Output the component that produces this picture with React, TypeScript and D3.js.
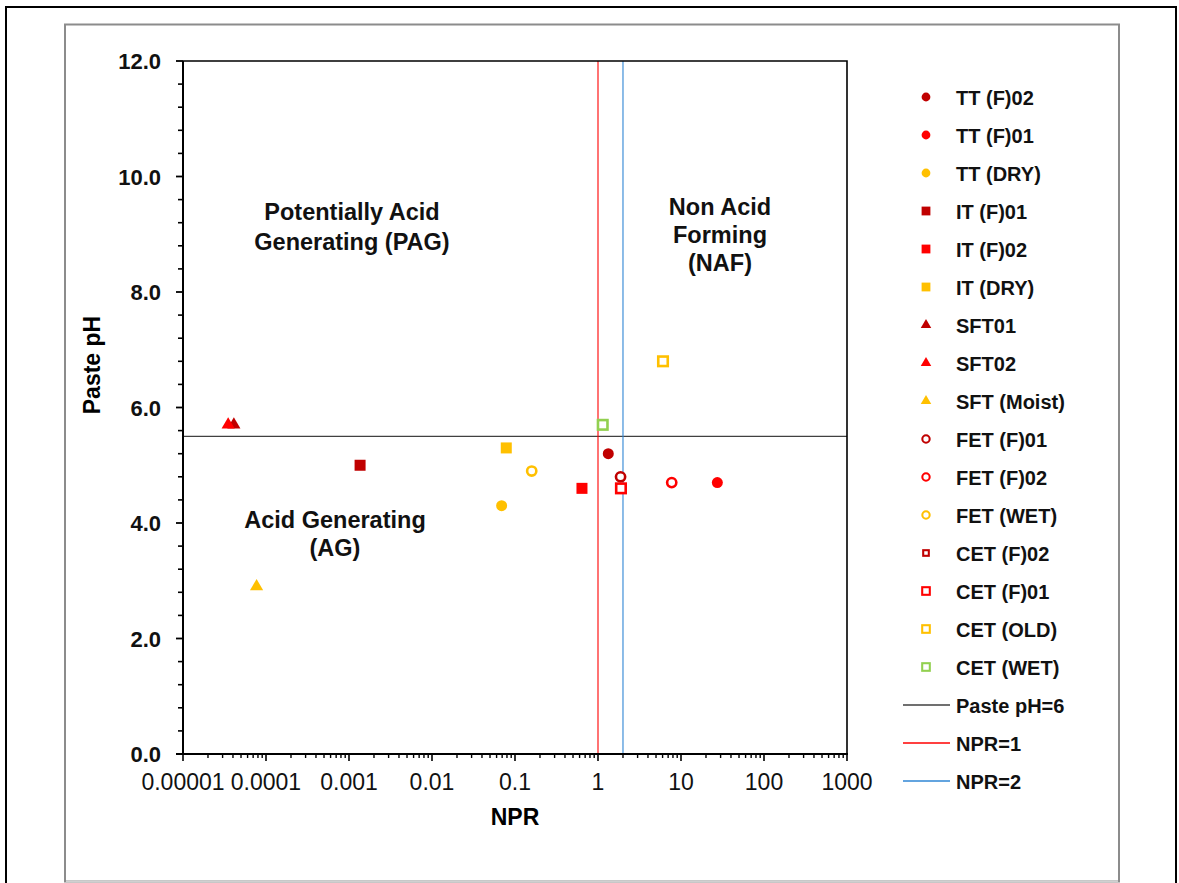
import * as d3 from 'd3';
import { useEffect, useRef } from 'react';

// series, in legend order
const seriesLabels = [
  'TT (F)02', 'TT (F)01', 'TT (DRY)',
  'IT (F)01', 'IT (F)02', 'IT (DRY)',
  'SFT01', 'SFT02', 'SFT (Moist)',
  'FET (F)01', 'FET (F)02', 'FET (WET)',
  'CET (F)02', 'CET (F)01', 'CET (OLD)', 'CET (WET)',
];
const seriesShapes = [
  'circle', 'circle', 'circle',
  'square', 'square', 'square',
  'triangle', 'triangle', 'triangle',
  'ring', 'ring', 'ring',
  'smallbox', 'box', 'box', 'box',
];
const seriesColors = [
  '#C00000', '#FF0000', '#FFC000',
  '#C00000', '#FF0000', '#FFC000',
  '#C00000', '#FF0000', '#FFC000',
  '#C00000', '#FF0000', '#FFC000',
  '#C00000', '#FF0000', '#FFC000', '#92D050',
];
const nprValues = [1.33, 27.4, 0.069, 0.00136, 0.641, 0.0785, 0.000041, 0.000035, 0.000077, 1.87, 7.73, 0.159, 1.9, 1.89, 6.07, 1.14];
const phValues = [5.2, 4.7, 4.3, 5.0, 4.6, 5.3, 5.7, 5.7, 2.9, 4.8, 4.7, 4.9, 4.6, 4.6, 6.8, 5.7];

// reference lines
const pasteLine = 5.5;
const nprLines = [1, 2];
const lineLabels = ['Paste pH=6', 'NPR=1', 'NPR=2'];
const lineColors = ['#404040', '#FF0000', '#2F86D4'];

const xTickLabels = ['0.00001', '0.0001', '0.001', '0.01', '0.1', '1', '10', '100', '1000'];
const yTicks = [0, 2, 4, 6, 8, 10, 12];

const W = 1179;
const H = 883;
const plot = { left: 183, right: 847, top: 61, bottom: 754 };
const FONT = '"Liberation Sans", Arial, sans-serif';

function drawMarker(g: any, shape: string, color: string, cx: number, cy: number, k: number) {
  if (shape === 'circle') {
    g.append('circle').attr('cx', cx).attr('cy', cy).attr('r', 5.5 * k).attr('fill', color);
  } else if (shape === 'square') {
    const s = 11 * k;
    g.append('rect').attr('x', cx - s / 2).attr('y', cy - s / 2).attr('width', s).attr('height', s).attr('fill', color);
  } else if (shape === 'triangle') {
    g.append('path')
      .attr('d', d3.symbol(d3.symbolTriangle, 75 * k * k)())
      .attr('transform', `translate(${cx},${cy})`)
      .attr('fill', color);
  } else if (shape === 'ring') {
    g.append('circle').attr('cx', cx).attr('cy', cy).attr('r', 4.6 * k)
      .attr('fill', 'white').attr('stroke', color).attr('stroke-width', 2.6 * k);
  } else if (shape === 'box' || shape === 'smallbox') {
    const s = (shape === 'box' ? 9.5 : 7) * k;
    g.append('rect').attr('x', cx - s / 2).attr('y', cy - s / 2).attr('width', s).attr('height', s)
      .attr('fill', 'white').attr('stroke', color).attr('stroke-width', 2.6 * k);
  }
}

export default function App() {
  const ref = useRef<SVGSVGElement>(null);

  useEffect(() => {
    const svg = d3.select(ref.current);
    svg.selectAll('*').remove();

    const x = d3.scaleLog().domain([1e-5, 1000]).range([plot.left, plot.right]);
    const y = d3.scaleLinear().domain([0, 12]).range([plot.bottom, plot.top]);

    // frames
    svg.append('rect').attr('x', 6).attr('y', 7).attr('width', 1170).attr('height', 900)
      .attr('fill', 'white').attr('stroke', 'black').attr('stroke-width', 2);
    svg.append('rect').attr('x', 65).attr('y', 24.5).attr('width', 1054).attr('height', 857)
      .attr('fill', 'white').attr('stroke', '#8c8c8c').attr('stroke-width', 2);
    svg.append('line').attr('x1', 66).attr('x2', 1118).attr('y1', 881.5).attr('y2', 881.5)
      .attr('stroke', '#d0d0d0').attr('stroke-width', 1.5);

    // reference lines
    svg.append('line')
      .attr('x1', plot.left).attr('x2', plot.right)
      .attr('y1', y(pasteLine)).attr('y2', y(pasteLine))
      .attr('stroke', lineColors[0]).attr('stroke-width', 1.4);
    nprLines.forEach((v, i) => {
      svg.append('line')
        .attr('x1', x(v)).attr('x2', x(v))
        .attr('y1', plot.top).attr('y2', plot.bottom)
        .attr('stroke', lineColors[i + 1]).attr('stroke-width', 1.1);
    });

    // plot border (top / right)
    svg.append('path')
      .attr('d', `M${plot.left},${plot.top}H${plot.right}V${plot.bottom}`)
      .attr('fill', 'none').attr('stroke', 'black').attr('stroke-width', 1.6);

    // x axis
    const xAxis = svg.append('g');
    xAxis.append('line').attr('x1', plot.left - 7).attr('x2', plot.right + 1)
      .attr('y1', plot.bottom).attr('y2', plot.bottom).attr('stroke', 'black').attr('stroke-width', 2);
    const decades = d3.range(-5, 4);
    decades.forEach((p, i) => {
      const v = Math.pow(10, p);
      xAxis.append('line').attr('x1', x(v)).attr('x2', x(v))
        .attr('y1', plot.bottom).attr('y2', plot.bottom + 7).attr('stroke', 'black').attr('stroke-width', 1.6);
      if (p < 3) {
        d3.range(2, 10).forEach(m => {
          xAxis.append('line').attr('x1', x(m * v)).attr('x2', x(m * v))
            .attr('y1', plot.bottom).attr('y2', plot.bottom + 4).attr('stroke', 'black').attr('stroke-width', 1.4);
        });
      }
      xAxis.append('text').attr('x', x(v)).attr('y', plot.bottom + 36)
        .attr('text-anchor', 'middle').attr('font-size', 23).attr('font-family', FONT)
        .attr('fill', '#111').text(xTickLabels[i]);
    });

    // y axis
    const yAxis = svg.append('g');
    yAxis.append('line').attr('x1', plot.left).attr('x2', plot.left)
      .attr('y1', plot.top).attr('y2', plot.bottom).attr('stroke', 'black').attr('stroke-width', 2);
    d3.range(0, 12.01, 0.4).forEach(v => {
      const major = Math.abs(v / 2 - Math.round(v / 2)) < 1e-6;
      yAxis.append('line').attr('x1', plot.left - (major ? 7 : 5)).attr('x2', plot.left)
        .attr('y1', y(v)).attr('y2', y(v)).attr('stroke', 'black').attr('stroke-width', major ? 1.8 : 1.6);
    });
    yTicks.forEach(v => {
      yAxis.append('text').attr('x', 161).attr('y', y(v) + 8)
        .attr('text-anchor', 'end').attr('font-size', 22).attr('font-weight', 'bold')
        .attr('font-family', FONT).attr('fill', '#111').text(d3.format('.1f')(v));
    });

    // axis titles
    svg.append('text').attr('x', (plot.left + plot.right) / 2).attr('y', 825)
      .attr('text-anchor', 'middle').attr('font-size', 23).attr('font-weight', 'bold')
      .attr('font-family', FONT).text('NPR');
    svg.append('text').attr('transform', `translate(100,365) rotate(-90)`)
      .attr('text-anchor', 'middle').attr('font-size', 23).attr('font-weight', 'bold')
      .attr('font-family', FONT).text('Paste pH');

    // region labels
    const regions = [
      { lines: ['Potentially Acid', 'Generating (PAG)'], cx: 352, y0: 220, dy: 30 },
      { lines: ['Non Acid', 'Forming', '(NAF)'], cx: 720, y0: 215, dy: 28 },
      { lines: ['Acid Generating', '(AG)'], cx: 335, y0: 528, dy: 28 },
    ];
    regions.forEach(r => {
      r.lines.forEach((t, i) => {
        svg.append('text').attr('x', r.cx).attr('y', r.y0 + i * r.dy)
          .attr('text-anchor', 'middle').attr('font-size', 23.5).attr('font-weight', 'bold')
          .attr('font-family', FONT).attr('fill', '#111').text(t);
      });
    });

    // points
    const pts = svg.append('g');
    seriesLabels.forEach((_, i) => {
      drawMarker(pts, seriesShapes[i], seriesColors[i], x(nprValues[i]), y(phValues[i]), 1);
    });

    // legend
    const leg = svg.append('g');
    const rowY = (i: number) => 97 + i * 38;
    seriesLabels.forEach((lab, i) => {
      drawMarker(leg, seriesShapes[i], seriesColors[i], 926, rowY(i), 0.8);
      leg.append('text').attr('x', 956).attr('y', rowY(i) + 7.5)
        .attr('font-size', 20).attr('font-weight', 'bold').attr('font-family', FONT)
        .attr('fill', '#111').text(lab);
    });
    lineLabels.forEach((lab, j) => {
      const i = seriesLabels.length + j;
      leg.append('line').attr('x1', 903).attr('x2', 950).attr('y1', rowY(i)).attr('y2', rowY(i))
        .attr('stroke', lineColors[j]).attr('stroke-width', 1.4);
      leg.append('text').attr('x', 956).attr('y', rowY(i) + 7.5)
        .attr('font-size', 20).attr('font-weight', 'bold').attr('font-family', FONT)
        .attr('fill', '#111').text(lab);
    });
  }, []);

  return (
    <svg ref={ref} width={W} height={H} style={{ position: 'absolute', left: 0, top: 0, background: 'white' }} />
  );
}
